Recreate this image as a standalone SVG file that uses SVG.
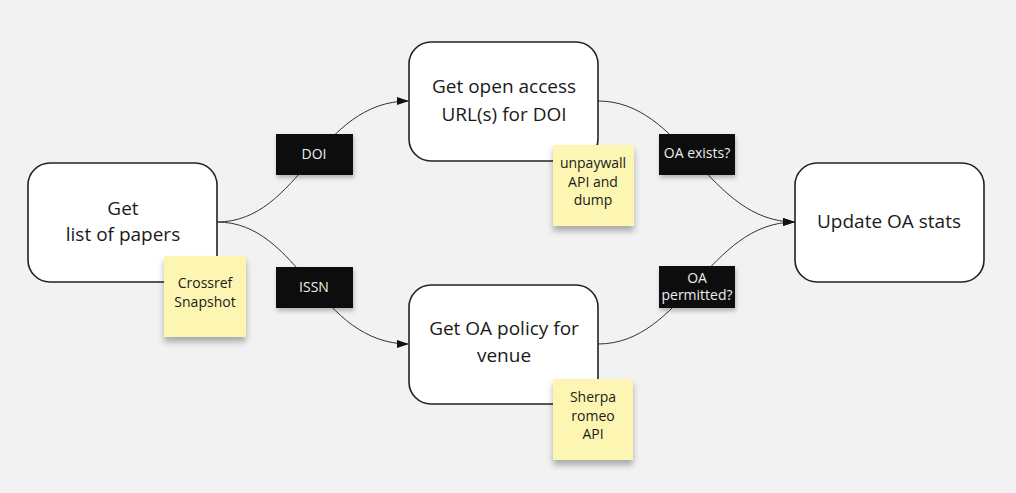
<svg xmlns="http://www.w3.org/2000/svg" width="1016" height="493" viewBox="0 0 1016 493">
<defs>
<style>
.node rect{fill:#ffffff;stroke:#222222;stroke-width:1.6}
.node text{font-family:"Open Sans","Noto Sans","Liberation Sans",sans-serif;font-size:19px;fill:#1a1a1a;text-anchor:middle}
.sticky rect{fill:#fdf6b3}
.sticky text{font-family:"Open Sans","Noto Sans","Liberation Sans",sans-serif;font-size:14px;fill:#1a1a1a;text-anchor:middle}
.label rect{fill:#0b0b0b}
.label text{font-family:"Open Sans","Noto Sans","Liberation Sans",sans-serif;font-size:14px;fill:#eeeeee;text-anchor:middle}
.conn path{fill:none;stroke:#333333;stroke-width:1}
</style>
<marker id="arrow" viewBox="0 0 12 8" refX="12" refY="4" markerWidth="12" markerHeight="8" markerUnits="userSpaceOnUse" orient="auto">
<path d="M0,0 L12,4 L0,8 Z" fill="#111111"/>
</marker>
<filter id="stickyShadow" x="-20%" y="-20%" width="140%" height="150%">
<feDropShadow dx="0" dy="5" stdDeviation="3" flood-color="#000000" flood-opacity="0.3"/>
</filter>
<filter id="labelShadow" x="-20%" y="-20%" width="140%" height="150%">
<feDropShadow dx="1" dy="3" stdDeviation="2" flood-color="#000000" flood-opacity="0.25"/>
</filter>
<linearGradient id="sheen" x1="0" y1="0" x2="1" y2="1">
<stop offset="0" stop-color="#050505"/>
<stop offset="0.55" stop-color="#0a0a0a"/>
<stop offset="0.75" stop-color="#262626"/>
<stop offset="1" stop-color="#080808"/>
</linearGradient>
</defs>
<rect x="0" y="0" width="1016" height="493" fill="#f2f2f2"/>

<g id="connectors" class="conn">
<path d="M217,222 C300,222 318,101 409,101" marker-end="url(#arrow)"/>
<path d="M217,222 C300,222 318,344 409,344" marker-end="url(#arrow)"/>
<path d="M598,101 C683,101 708,222 795,222" marker-end="url(#arrow)"/>
<path d="M598,344 C683,344 708,222 795,222" marker-end="url(#arrow)"/>
</g>

<g id="node-papers" class="node">
<rect x="28" y="163" width="189" height="119" rx="22"/>
<text x="123" y="215">Get</text>
<text x="123" y="241">list of papers</text>
</g>

<g id="node-oa-url" class="node">
<rect x="409" y="42" width="189" height="119" rx="22"/>
<text x="504" y="93">Get open access</text>
<text x="504" y="121">URL(s) for DOI</text>
</g>

<g id="node-oa-policy" class="node">
<rect x="409" y="285" width="189" height="119" rx="22"/>
<text x="504" y="335">Get OA policy for</text>
<text x="504" y="362">venue</text>
</g>

<g id="node-stats" class="node">
<rect x="795" y="163" width="189" height="119" rx="22"/>
<text x="889" y="228">Update OA stats</text>
</g>

<g id="label-doi" class="label">
<rect x="276" y="134" width="77" height="41" fill="url(#sheen)" filter="url(#labelShadow)"/>
<text x="314" y="159">DOI</text>
</g>

<g id="label-issn" class="label">
<rect x="276" y="267" width="77" height="41" fill="url(#sheen)" filter="url(#labelShadow)"/>
<text x="314" y="292">ISSN</text>
</g>

<g id="label-oa-exists" class="label">
<rect x="659" y="134" width="76" height="41" fill="url(#sheen)" filter="url(#labelShadow)"/>
<text x="697" y="158">OA exists?</text>
</g>

<g id="label-oa-permitted" class="label">
<rect x="659" y="266" width="76" height="42" fill="url(#sheen)" filter="url(#labelShadow)"/>
<text x="697" y="283">OA</text>
<text x="697" y="300">permitted?</text>
</g>

<g id="sticky-crossref" class="sticky">
<rect x="164" y="256" width="82" height="81" filter="url(#stickyShadow)"/>
<text x="205" y="288">Crossref</text>
<text x="205" y="307">Snapshot</text>
</g>

<g id="sticky-unpaywall" class="sticky">
<rect x="553" y="145" width="81" height="81" filter="url(#stickyShadow)"/>
<text x="593" y="168">unpaywall</text>
<text x="593" y="187">API and</text>
<text x="593" y="205">dump</text>
</g>

<g id="sticky-sherpa" class="sticky">
<rect x="553" y="379" width="80" height="81" filter="url(#stickyShadow)"/>
<text x="593" y="402">Sherpa</text>
<text x="593" y="421">romeo</text>
<text x="593" y="439">API</text>
</g>
</svg>
